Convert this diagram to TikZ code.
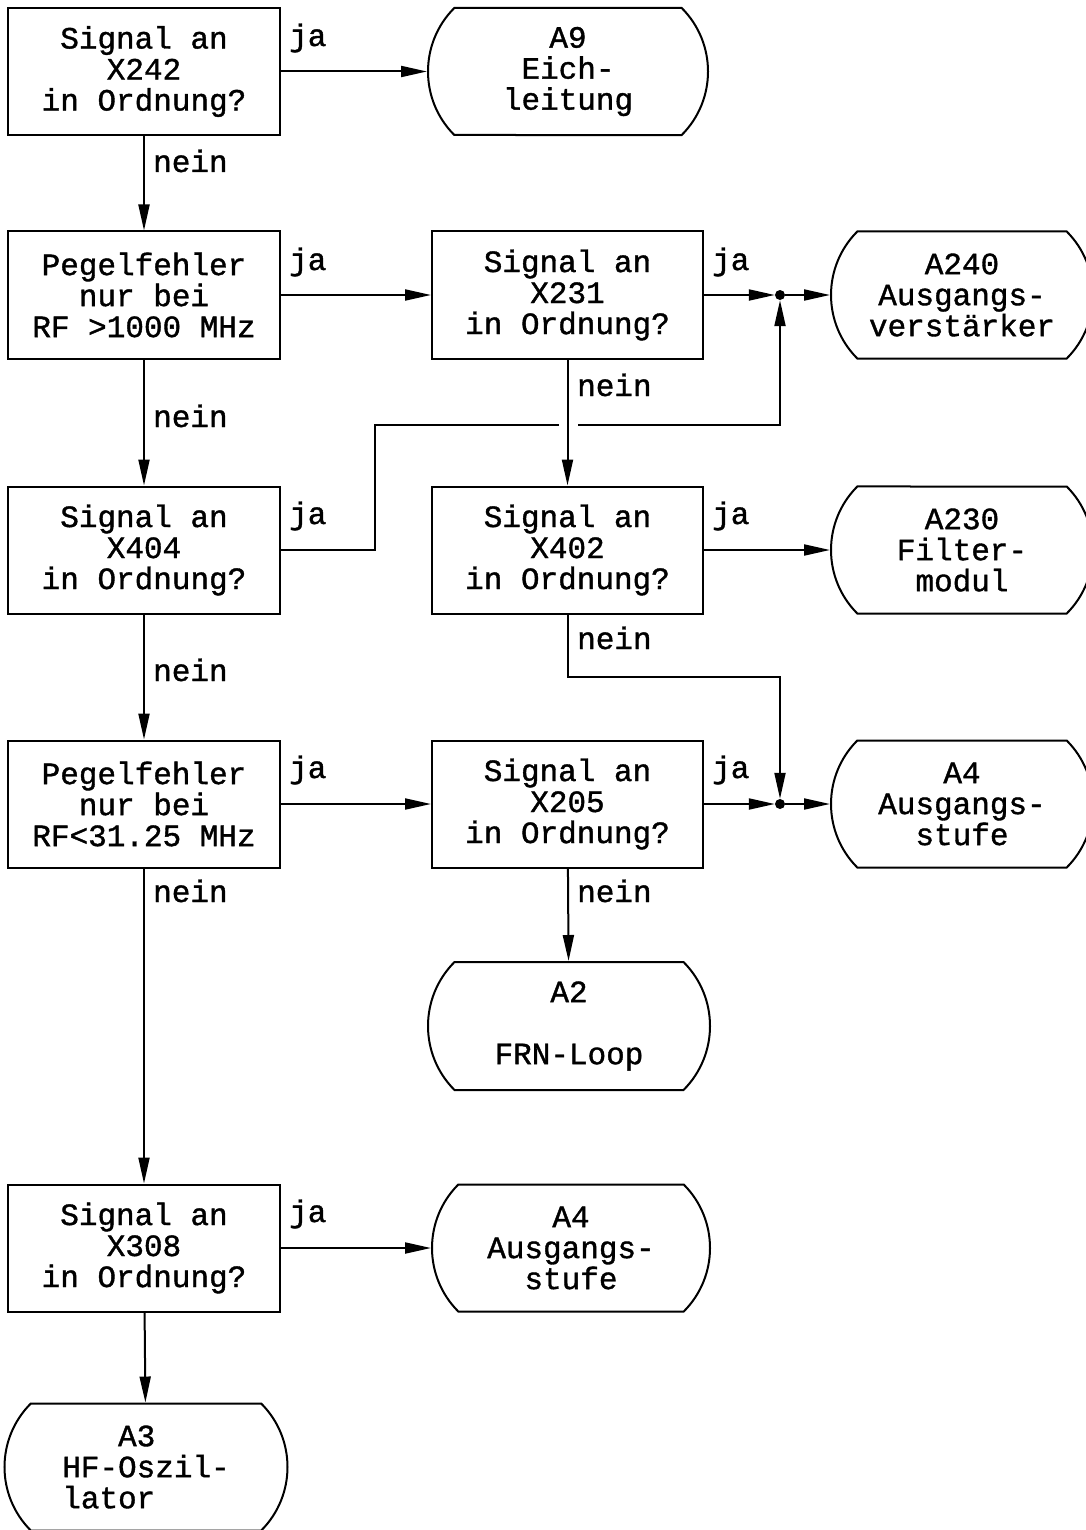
\documentclass[tikz,border=0pt]{standalone}
\usepackage{fontspec}
\setmonofont[FakeBold=1.2]{Liberation Mono}
\usetikzlibrary{arrows.meta,shapes.misc}
\tikzset{
  txt/.style={font=\ttfamily\fontsize{31}{31}\selectfont},
  box/.style={txt,draw,line width=2pt,rectangle,minimum height=127pt,inner sep=0pt,align=center},
  term/.style={txt,draw,line width=2pt,rounded rectangle,rounded rectangle arc length=90,minimum height=127pt,inner sep=0pt,align=center},
  lbl/.style={txt,anchor=base west,inner sep=0pt},
  arr/.style={line width=2pt,-{Triangle[length=26pt,width=11pt]}},
  ln/.style={line width=2pt},
  dot/.style={circle,fill,inner sep=0pt,minimum size=10pt}
}
\begin{document}
\begin{tikzpicture}[x=1pt,y=-1pt]
\useasboundingbox (0,0) rectangle (1085,1530);
% decision boxes
\node[box,minimum width=272pt] (B1) at (144,71.5) {Signal an\\X242\\in Ordnung?};
\node[box,minimum width=272pt] (B2) at (144,295) {Pegelfehler\\nur bei\\RF >1000 MHz};
\node[box,minimum width=272pt] (B3) at (144,550) {Signal an\\X404\\in Ordnung?};
\node[box,minimum width=272pt] (B4) at (144,804) {Pegelfehler\\nur bei\\RF<31.25 MHz};
\node[box,minimum width=272pt] (B5) at (144,1248) {Signal an\\X308\\in Ordnung?};
\node[box,minimum width=271pt] (C2) at (567.5,295) {Signal an\\X231\\in Ordnung?};
\node[box,minimum width=271pt] (C3) at (567.5,550) {Signal an\\X402\\in Ordnung?};
\node[box,minimum width=271pt] (C4) at (567.5,804) {Signal an\\X205\\in Ordnung?};
% terminals
\node[term,minimum width=280pt] (T1) at (568,71.5) {A9\\Eich-\\leitung};
\node[term,minimum width=262pt] (T2) at (962,295) {A240\\Ausgangs-\\verstärker};
\node[term,minimum width=262pt] (T3) at (962,550) {A230\\Filter-\\modul};
\node[term,minimum width=262pt] (T4) at (962,804) {A4\\Ausgangs-\\stufe};
\node[term,minimum width=282pt,minimum height=128pt] (T5) at (569,1026) {A2\\[31pt]FRN-Loop};
\node[term,minimum width=278pt] (T6) at (571,1248) {A4\\Ausgangs-\\stufe};
\node[term,minimum width=283pt,align=left] (T7) at (146,1467) {\ \ \ A3\\HF-Oszil-\\lator};
% junctions
\node[dot] (J1) at (780,295) {};
\node[dot] (J2) at (780,804) {};
\coordinate (P1) at (375,425);
\coordinate (G1) at (559,425);
\coordinate (G2) at (578,425);
\coordinate (P2) at (780,425);
\coordinate (P3) at (780,677);
% connectors
\draw[arr] (B1) -- (T1);
\draw[arr] (B1) -- (B2);
\draw[arr] (B2) -- (C2);
\draw[arr] (C2) -- (J1);
\draw[arr] (J1) -- (T2);
\draw[arr] (B2) -- (B3);
\draw[ln] (B3.east) -| (P1) -- (G1);
\draw[arr] (G2) -- (P2) -- (J1);
\draw[arr] (C2) -- (C3);
\draw[arr] (C3) -- (T3);
\draw[arr] (C3.south) |- (P3) -- (J2);
\draw[arr] (B3) -- (B4);
\draw[arr] (B4) -- (C4);
\draw[arr] (C4) -- (J2);
\draw[arr] (J2) -- (T4);
\draw[arr] (C4) -- (T5);
\draw[arr] (B4) -- (B5);
\draw[arr] (B5) -- (T6);
\draw[arr] (B5) -- (T7);
% labels
\node[lbl] (L1) at (289,46) {ja};
\node[lbl] (L2) at (289,270) {ja};
\node[lbl] (L3) at (289,524) {ja};
\node[lbl] (L4) at (289,778) {ja};
\node[lbl] (L5) at (289,1222) {ja};
\node[lbl] (L6) at (712,270) {ja};
\node[lbl] (L7) at (712,524) {ja};
\node[lbl] (L8) at (712,778) {ja};
\node[lbl] (N1) at (153,172) {nein};
\node[lbl] (N2) at (153,427) {nein};
\node[lbl] (N3) at (153,681) {nein};
\node[lbl] (N4) at (153,902) {nein};
\node[lbl] (N5) at (577,396) {nein};
\node[lbl] (N6) at (577,649) {nein};
\node[lbl] (N7) at (577,902) {nein};
\end{tikzpicture}
\end{document}
